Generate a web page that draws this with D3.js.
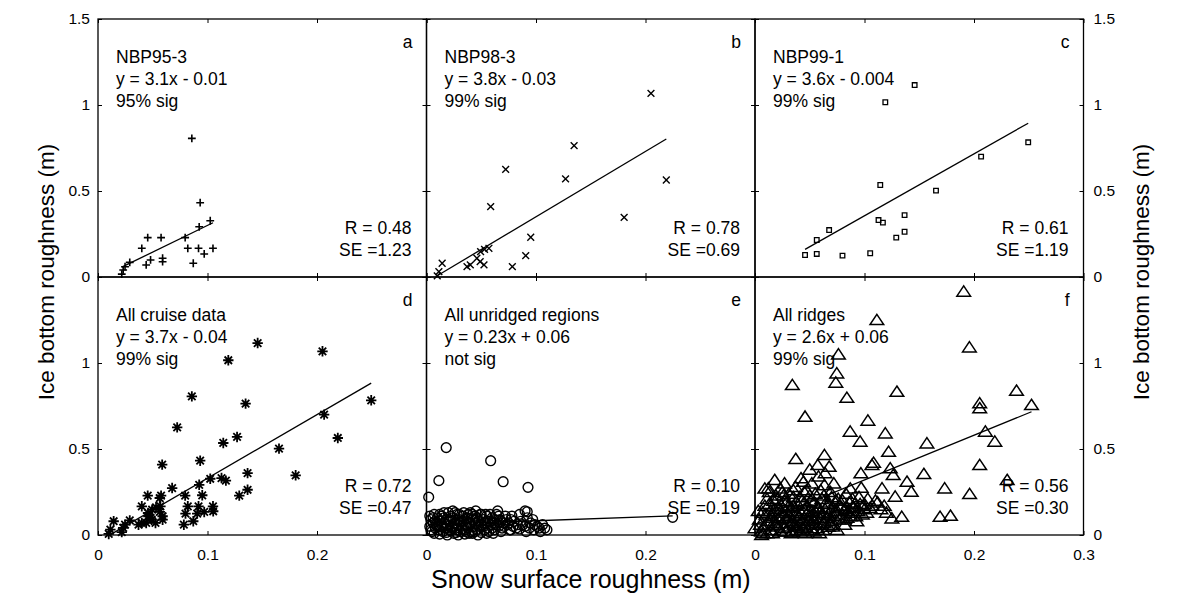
<!DOCTYPE html>
<html>
<head>
<meta charset="utf-8">
<script src="https://cdn.jsdelivr.net/npm/d3@7"></script>
<style>
  body { margin: 0; background: #fff; }
  svg { display: block; }
  text { font-family: "Liberation Sans", Arial, sans-serif; fill: #000; }
</style>
</head>
<body>
<div class="chart"></div>
<script>
// snow surface roughness (m), ice bottom roughness (m)
const nbp95 = [
  [0.0857, 0.806], [0.0933, 0.432], [0.1025, 0.327], [0.0924, 0.292], [0.0454, 0.229],
  [0.0576, 0.229], [0.0796, 0.229], [0.040, 0.167], [0.082, 0.167], [0.0918, 0.167],
  [0.097, 0.134], [0.105, 0.167], [0.048, 0.099], [0.044, 0.070], [0.059, 0.109],
  [0.059, 0.089], [0.087, 0.080], [0.029, 0.085], [0.0247, 0.060], [0.023, 0.041],
  [0.0217, 0.017]
];
const nbp98 = [
  [0.205, 1.068], [0.1348, 0.764], [0.0723, 0.626], [0.127, 0.570], [0.219, 0.564],
  [0.0586, 0.409], [0.1805, 0.347], [0.0952, 0.231], [0.0906, 0.124], [0.0784, 0.060],
  [0.057, 0.167], [0.053, 0.161], [0.0494, 0.147], [0.046, 0.109], [0.049, 0.089],
  [0.0525, 0.070], [0.037, 0.060], [0.040, 0.070], [0.0143, 0.080], [0.0113, 0.031],
  [0.0098, 0.006]
];
const nbp99 = [
  [0.1458, 1.116], [0.119, 1.016], [0.2495, 0.783], [0.2065, 0.700], [0.1144, 0.535],
  [0.1653, 0.502], [0.1366, 0.360], [0.1128, 0.331], [0.1168, 0.316], [0.0677, 0.273],
  [0.1366, 0.263], [0.129, 0.229], [0.0564, 0.215], [0.0457, 0.128], [0.0564, 0.134],
  [0.0799, 0.124], [0.1052, 0.138]
];
const allCruise = nbp95.concat(nbp98, nbp99);
const unridged = [
  [0.018, 0.508], [0.0586, 0.432], [0.0113, 0.316], [0.070, 0.310], [0.0927, 0.277],
  [0.002, 0.220], [0.092, 0.135], [0.2248, 0.103], [0.077, 0.030], [0.085, 0.035],
  [0.098, 0.030], [0.108, 0.040], [0.003, 0.05], [0.004, 0.09], [0.005, 0.02],
  [0.006, 0.07], [0.007, 0.12], [0.008, 0.04], [0.009, 0.06], [0.010, 0.10],
  [0.011, 0.03], [0.012, 0.08], [0.013, 0.05], [0.014, 0.11], [0.015, 0.02],
  [0.016, 0.07], [0.017, 0.04], [0.018, 0.09], [0.019, 0.06], [0.020, 0.13],
  [0.021, 0.03], [0.022, 0.08], [0.023, 0.05], [0.024, 0.10], [0.025, 0.01],
  [0.026, 0.07], [0.027, 0.04], [0.028, 0.12], [0.029, 0.06], [0.030, 0.09],
  [0.031, 0.02], [0.032, 0.05], [0.033, 0.11], [0.034, 0.08], [0.035, 0.03],
  [0.036, 0.06], [0.037, 0.10], [0.038, 0.04], [0.039, 0.07], [0.040, 0.13],
  [0.041, 0.02], [0.042, 0.09], [0.043, 0.05], [0.044, 0.11], [0.045, 0.07],
  [0.046, 0.03], [0.047, 0.08], [0.048, 0.05], [0.049, 0.12], [0.050, 0.06],
  [0.052, 0.09], [0.053, 0.03], [0.054, 0.07], [0.055, 0.11], [0.056, 0.04],
  [0.058, 0.08], [0.059, 0.06], [0.060, 0.10], [0.062, 0.03], [0.063, 0.07],
  [0.064, 0.12], [0.066, 0.05], [0.067, 0.09], [0.069, 0.04], [0.070, 0.07],
  [0.072, 0.11], [0.074, 0.06], [0.076, 0.03], [0.077, 0.09], [0.079, 0.05],
  [0.082, 0.04], [0.088, 0.06], [0.091, 0.02], [0.094, 0.04], [0.101, 0.05],
  [0.104, 0.02], [0.015, 0.045], [0.022, 0.025], [0.028, 0.085], [0.033, 0.035],
  [0.038, 0.095], [0.044, 0.065], [0.027, 0.015], [0.035, 0.005], [0.042, 0.01],
  [0.018, 0.015], [0.012, 0.005], [0.050, 0.015], [0.057, 0.02], [0.025, 0.065],
  [0.031, 0.075], [0.004, 0.03], [0.006, 0.10], [0.008, 0.08], [0.010, 0.05],
  [0.012, 0.12], [0.014, 0.06], [0.016, 0.10], [0.018, 0.04], [0.020, 0.08],
  [0.022, 0.11], [0.024, 0.04], [0.026, 0.13], [0.028, 0.03], [0.030, 0.12],
  [0.032, 0.08], [0.034, 0.13], [0.036, 0.02], [0.038, 0.12], [0.040, 0.06],
  [0.042, 0.12], [0.044, 0.02], [0.046, 0.10], [0.048, 0.08], [0.050, 0.12],
  [0.052, 0.05], [0.054, 0.12], [0.056, 0.08], [0.058, 0.12], [0.060, 0.04],
  [0.062, 0.09], [0.064, 0.06], [0.066, 0.11], [0.068, 0.08], [0.071, 0.05],
  [0.073, 0.09], [0.075, 0.07], [0.078, 0.11], [0.080, 0.08], [0.083, 0.06],
  [0.086, 0.08], [0.090, 0.05], [0.095, 0.07], [0.099, 0.06], [0.103, 0.04],
  [0.106, 0.06], [0.110, 0.03], [0.007, 0.01], [0.019, 0.00], [0.029, 0.00],
  [0.039, 0.01], [0.047, 0.00], [0.055, 0.01], [0.061, 0.01], [0.068, 0.02],
  [0.003, 0.11], [0.016, 0.13], [0.024, 0.14], [0.045, 0.14], [0.065, 0.14],
  [0.085, 0.12], [0.092, 0.10], [0.097, 0.09], [0.090, 0.14]
];
const ridges = [
  [0.1906, 1.415], [0.1113, 1.25], [0.1958, 1.091], [0.0762, 1.05], [0.0747, 0.94],
  [0.0738, 0.886], [0.0341, 0.872], [0.0839, 0.798], [0.1296, 0.833], [0.2388, 0.839],
  [0.2525, 0.756], [0.2052, 0.766], [0.2052, 0.737], [0.0457, 0.688], [0.1031, 0.665],
  [0.0869, 0.601], [0.119, 0.591], [0.096, 0.543], [0.2104, 0.601], [0.219, 0.543],
  [0.157, 0.533], [0.122, 0.484], [0.0634, 0.465], [0.0372, 0.442], [0.0573, 0.407],
  [0.0677, 0.397], [0.1083, 0.42], [0.1068, 0.407], [0.2052, 0.407], [0.1235, 0.388],
  [0.0967, 0.359], [0.1262, 0.349], [0.1542, 0.355], [0.0442, 0.31], [0.0519, 0.30],
  [0.0634, 0.29], [0.1388, 0.31], [0.116, 0.271], [0.1427, 0.252], [0.1732, 0.271],
  [0.196, 0.238], [0.2303, 0.32], [0.0122, 0.271], [0.128, 0.223], [0.125, 0.097],
  [0.134, 0.106], [0.169, 0.106], [0.1785, 0.112], [0.105, 0.157], [0.067, 0.048],
  [0.052, 0.029], [0.034, 0.02], [0.0, 0.04], [0.0076, 0.01], [0.087, 0.27],
  [0.097, 0.275], [0.025, 0.25], [0.035, 0.26], [0.045, 0.25], [0.06, 0.26],
  [0.11, 0.2], [0.1, 0.18], [0.09, 0.16], [0.115, 0.15], [0.12, 0.13],
  [0.08, 0.2], [0.07, 0.22], [0.008, 0.05], [0.010, 0.12], [0.012, 0.08],
  [0.013, 0.18], [0.015, 0.03], [0.016, 0.10], [0.018, 0.15], [0.019, 0.06],
  [0.020, 0.21], [0.021, 0.09], [0.022, 0.13], [0.023, 0.02], [0.024, 0.17],
  [0.025, 0.07], [0.026, 0.11], [0.027, 0.04], [0.028, 0.14], [0.029, 0.19],
  [0.030, 0.09], [0.031, 0.12], [0.032, 0.05], [0.033, 0.16], [0.034, 0.08],
  [0.035, 0.22], [0.036, 0.11], [0.037, 0.14], [0.038, 0.03], [0.039, 0.18],
  [0.040, 0.10], [0.041, 0.07], [0.042, 0.13], [0.043, 0.20], [0.044, 0.09],
  [0.045, 0.15], [0.046, 0.05], [0.047, 0.12], [0.048, 0.17], [0.049, 0.08],
  [0.050, 0.23], [0.051, 0.11], [0.052, 0.14], [0.053, 0.06], [0.054, 0.19],
  [0.055, 0.10], [0.056, 0.13], [0.057, 0.04], [0.058, 0.16], [0.060, 0.09],
  [0.061, 0.21], [0.062, 0.12], [0.063, 0.07], [0.064, 0.15], [0.066, 0.10],
  [0.067, 0.18], [0.068, 0.13], [0.070, 0.08], [0.071, 0.16], [0.072, 0.11],
  [0.074, 0.20], [0.075, 0.14], [0.077, 0.09], [0.078, 0.17], [0.080, 0.12],
  [0.082, 0.15], [0.084, 0.10], [0.086, 0.19], [0.088, 0.13], [0.090, 0.16],
  [0.092, 0.11], [0.094, 0.14], [0.096, 0.18], [0.098, 0.12], [0.100, 0.15],
  [0.102, 0.13], [0.014, 0.14], [0.017, 0.20], [0.026, 0.23], [0.033, 0.01],
  [0.041, 0.02], [0.048, 0.03], [0.054, 0.02], [0.011, 0.01], [0.006, 0.02],
  [0.004, 0.09], [0.030, 0.16], [0.036, 0.06], [0.044, 0.04], [0.059, 0.01],
  [0.005, 0.06], [0.007, 0.13], [0.009, 0.17], [0.011, 0.21], [0.013, 0.25],
  [0.015, 0.11], [0.017, 0.07], [0.019, 0.23], [0.021, 0.16], [0.023, 0.27],
  [0.025, 0.13], [0.027, 0.20], [0.029, 0.10], [0.031, 0.24], [0.033, 0.07],
  [0.035, 0.17], [0.037, 0.28], [0.039, 0.12], [0.041, 0.22], [0.043, 0.04],
  [0.045, 0.19], [0.047, 0.26], [0.049, 0.14], [0.051, 0.20], [0.053, 0.09],
  [0.055, 0.24], [0.057, 0.16], [0.059, 0.13], [0.061, 0.06], [0.063, 0.23],
  [0.065, 0.19], [0.067, 0.12], [0.069, 0.25], [0.071, 0.05], [0.073, 0.14],
  [0.076, 0.21], [0.079, 0.16], [0.081, 0.09], [0.083, 0.24], [0.085, 0.14],
  [0.087, 0.11], [0.089, 0.21], [0.091, 0.18], [0.093, 0.08], [0.095, 0.22],
  [0.099, 0.17], [0.103, 0.21], [0.107, 0.17], [0.112, 0.19], [0.118, 0.17],
  [0.006, 0.00], [0.016, 0.01], [0.021, 0.05], [0.028, 0.02], [0.039, 0.05],
  [0.046, 0.01], [0.056, 0.07], [0.062, 0.03], [0.069, 0.06], [0.075, 0.03],
  [0.082, 0.06], [0.003, 0.14], [0.009, 0.27], [0.018, 0.32], [0.027, 0.30],
  [0.042, 0.33], [0.058, 0.34], [0.072, 0.30], [0.064, 0.36], [0.050, 0.38]
];

const xTicks = [0, 0.1, 0.2, 0.3];
const yTicks = [0, 0.5, 1, 1.5];

const panels = [
  { letter: "a", col: 0, row: 0, data: nbp95, marker: "plus",
    label: ["NBP95-3", "y = 3.1x - 0.01", "95% sig"], fit: [3.1, -0.01], r: "R = 0.48", se: "SE =1.23" },
  { letter: "b", col: 1, row: 0, data: nbp98, marker: "times",
    label: ["NBP98-3", "y = 3.8x - 0.03", "99% sig"], fit: [3.8, -0.03], r: "R = 0.78", se: "SE =0.69" },
  { letter: "c", col: 2, row: 0, data: nbp99, marker: "square",
    label: ["NBP99-1", "y = 3.6x - 0.004", "99% sig"], fit: [3.6, -0.004], r: "R = 0.61", se: "SE =1.19" },
  { letter: "d", col: 0, row: 1, data: allCruise, marker: "star",
    label: ["All cruise data", "y = 3.7x - 0.04", "99% sig"], fit: [3.7, -0.04], r: "R = 0.72", se: "SE =0.47" },
  { letter: "e", col: 1, row: 1, data: unridged, marker: "circle",
    label: ["All unridged regions", "y = 0.23x + 0.06", "not sig"], fit: [0.23, 0.06], r: "R = 0.10", se: "SE =0.19" },
  { letter: "f", col: 2, row: 1, data: ridges, marker: "triangle",
    label: ["All ridges", "y = 2.6x + 0.06", "99% sig"], fit: [2.6, 0.06], r: "R = 0.56", se: "SE =0.30" }
];

const W = 1181, H = 597;
const plotLeft = 98, plotTop = 19, panelW = 328.5, panelH = 258;

const markers = {
  plus: { draw(c, r) { c.moveTo(-r, 0); c.lineTo(r, 0); c.moveTo(0, -r); c.lineTo(0, r); } },
  times: { draw(c, r) { c.moveTo(-r, -r); c.lineTo(r, r); c.moveTo(-r, r); c.lineTo(r, -r); } },
  star: { draw(c, r) {
    const k = r * 0.72;
    c.moveTo(-r, 0); c.lineTo(r, 0); c.moveTo(0, -r); c.lineTo(0, r);
    c.moveTo(-k, -k); c.lineTo(k, k); c.moveTo(-k, k); c.lineTo(k, -k);
  } },
  square: { draw(c, r) { c.rect(-r, -r, 2 * r, 2 * r); } },
  circle: { draw(c, r) { c.moveTo(r, 0); c.arc(0, 0, r, 0, 2 * Math.PI); } },
  triangle: { draw(c, r) { c.moveTo(0, -r); c.lineTo(r * 1.2, r * 0.8); c.lineTo(-r * 1.2, r * 0.8); c.closePath(); } }
};
const markerSize = { plus: 3.9, times: 3.4, star: 5.2, square: 2.3, circle: 4.9, triangle: 5.7 };
const markerStroke = { plus: 1.6, times: 1.4, star: 1.8, square: 1.3, circle: 1.4, triangle: 1.5 };

const svg = d3.select(".chart").append("svg")
  .attr("width", W)
  .attr("height", H);

svg.append("rect").attr("width", W).attr("height", H).attr("fill", "#fff");

panels.forEach(p => {
  const x0 = plotLeft + p.col * panelW, y0 = plotTop + p.row * panelH;
  const x = d3.scaleLinear().domain([0, 0.3]).range([x0, x0 + panelW]);
  const y = d3.scaleLinear().domain([0, 1.5]).range([y0 + panelH, y0]);
  const g = svg.append("g");

  const labelX = p.row === 1;
  const xLabels = p.col === 2 ? xTicks : xTicks.slice(0, 3);
  const yLabels = p.row === 0 ? yTicks : yTicks.slice(0, 3);
  const fmt = vals => d => vals.includes(d) ? String(d) : "";
  const none = () => "";

  const axes = [
    [d3.axisBottom(x).tickPadding(14).tickFormat(labelX ? fmt(xLabels) : none), `translate(0,${y0 + panelH})`],
    [d3.axisTop(x).tickFormat(none), `translate(0,${y0})`],
    [d3.axisLeft(y).tickPadding(8).tickFormat(p.col === 0 ? fmt(yLabels) : none), `translate(${x0},0)`],
    [d3.axisRight(y).tickPadding(10).tickFormat(p.col === 2 ? fmt(yLabels) : none), `translate(${x0 + panelW},0)`]
  ];
  axes.forEach(([ax, tr], i) => {
    ax.tickValues(i < 2 ? xTicks : yTicks).tickSize(-4);
    const a = g.append("g").attr("transform", tr).call(ax);
    a.select(".domain").remove();
    a.selectAll(".tick line").attr("stroke-width", 1);
    a.selectAll("text").attr("font-size", 15.5);
    a.attr("font-family", null).attr("font-size", null);
  });

  g.append("rect")
    .attr("x", x0).attr("y", y0)
    .attr("width", panelW).attr("height", panelH)
    .attr("fill", "none").attr("stroke", "#000").attr("stroke-width", 1.3);

  // text
  const txt = g.append("g").attr("font-size", 17.5);
  p.label.forEach((s, i) => {
    txt.append("text").attr("x", x0 + 18).attr("y", y0 + 44 + i * 22).text(s);
  });
  txt.append("text").attr("x", x0 + panelW - 14).attr("y", y0 + 29)
    .attr("text-anchor", "end").text(p.letter);
  txt.append("text").attr("x", x0 + panelW - 15).attr("y", y0 + panelH - 43)
    .attr("text-anchor", "end").text(p.r);
  txt.append("text").attr("x", x0 + panelW - 15).attr("y", y0 + panelH - 21)
    .attr("text-anchor", "end").text(p.se);

  // regression line over the data range
  const ext = d3.extent(p.data, d => d[0]);
  const line = d3.line().x(d => x(d)).y(d => y(p.fit[0] * d + p.fit[1]));
  g.append("path")
    .attr("d", line(ext))
    .attr("fill", "none").attr("stroke", "#000").attr("stroke-width", 1.3);

  const sym = d3.symbol().type(markers[p.marker]).size(markerSize[p.marker]);
  g.append("g").selectAll("path")
    .data(p.data)
    .join("path")
    .attr("transform", d => `translate(${x(d[0])},${y(d[1])})`)
    .attr("d", sym)
    .attr("fill", "none")
    .attr("stroke", "#000")
    .attr("stroke-width", markerStroke[p.marker]);
});

svg.append("text")
  .attr("x", plotLeft + 1.5 * panelW).attr("y", 588)
  .attr("text-anchor", "middle").attr("font-size", 25)
  .text("Snow surface roughness (m)");

svg.append("text")
  .attr("transform", "translate(54,272) rotate(-90)")
  .attr("text-anchor", "middle").attr("font-size", 22.5)
  .text("Ice bottom roughness (m)");

svg.append("text")
  .attr("transform", "translate(1149,272) rotate(-90)")
  .attr("text-anchor", "middle").attr("font-size", 22.5)
  .text("Ice bottom roughness (m)");
</script>
</body>
</html>
